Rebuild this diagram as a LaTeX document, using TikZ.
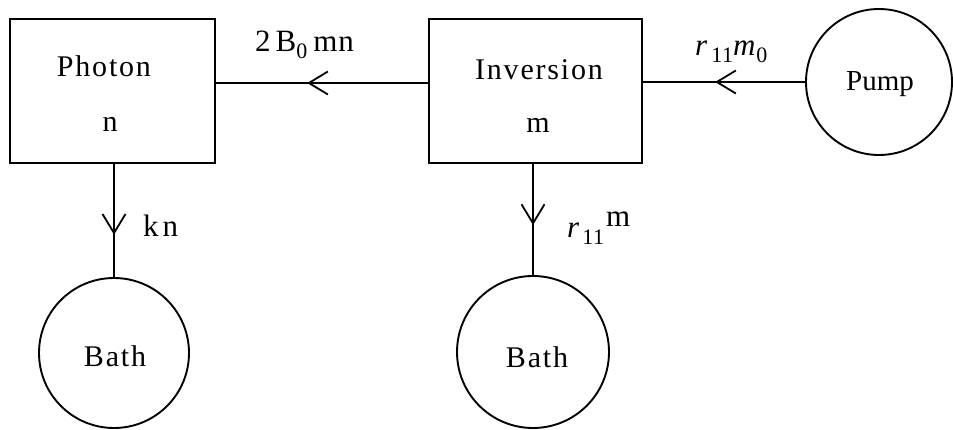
\documentclass[tikz,border=0pt]{standalone}
\usepackage{fontspec}
\setmainfont{Liberation Serif}
\newfontfamily\spacedfont{Liberation Serif}[LetterSpace=6]
\newfontfamily\lblfont{Liberation Serif}[LetterSpace=3]
\newcommand{\mysub}[1]{\raisebox{-7pt}{\fontsize{22}{22}\selectfont #1}}
\usetikzlibrary{arrows.meta,decorations.markings}
\tikzset{
  boxnode/.style={draw, line width=1.9pt, inner sep=0pt},
  circnode/.style={draw, circle, line width=1.9pt, inner sep=0pt},
  txt/.style={inner sep=0pt, anchor=base, font=\spacedfont\fontsize{30}{34}\selectfont},
  lbl/.style={inner sep=0pt, anchor=base west, font=\lblfont\fontsize{31}{34}\selectfont},
  conn/.style={line width=1.8pt, postaction={decorate},
    decoration={markings, mark=at position #1 with {\arrow{Straight Barb[length=19pt,width=23pt,line width=1.8pt]}}}}
}
\begin{document}
\begin{tikzpicture}[x=1pt,y=-1pt]
\useasboundingbox (0,0) rectangle (953,430);
% boxes
\node[boxnode, minimum width=205pt, minimum height=144pt] (photon) at (112.5,91) {};
\node[boxnode, minimum width=213pt, minimum height=144pt] (inv) at (535.5,91) {};
% circles
\node[circnode, minimum size=146pt] (pump) at (879,82) {};
\node[circnode, minimum size=150pt] (bathA) at (114,353) {};
\node[circnode, minimum size=152pt] (bathB) at (533,352) {};
% texts
\node[txt] (photont) at (104,77) {Photon};
\node[txt] (photonn) at (110,132) {n};
\node[txt] (invt) at (539,80) {Inversion};
\node[txt] (invm) at (538,133) {m};
\node[txt, font=\fontsize{29}{32}\selectfont] (pumpt) at (880,91) {Pump};
\node[txt] (bathAt) at (115,366) {Bath};
\node[txt] (bathBt) at (537,367) {Bath};
% labels
\node[lbl] (lblB) at (255,52) {2\hspace{5pt}B\mysub{0}\hspace{6pt}m\hspace{1pt}n};
\node[lbl] (lblpump) at (695,56) {\textit{r}\hspace{3pt}\mysub{11}\textit{m}\mysub{0}};
\node[lbl] (lblk) at (143,237) {k\hspace{4pt}n};
\node[lbl] (lblr) at (567,238) {\textit{r}\hspace{2pt}\mysub{11}\hspace{2pt}\raisebox{11pt}{m}};
% connectors
\draw[conn=0.555] (pump.west) -- (pump.west -| inv.east);
\draw[conn=0.57] ([yshift=8pt]inv.west) -- ([yshift=8pt]inv.west -| photon.east);
\draw[conn=0.626] (bathA.north |- photon.south) -- (bathA.north);
\draw[conn=0.55] (bathB.north |- inv.south) -- (bathB.north);
\end{tikzpicture}
\end{document}
